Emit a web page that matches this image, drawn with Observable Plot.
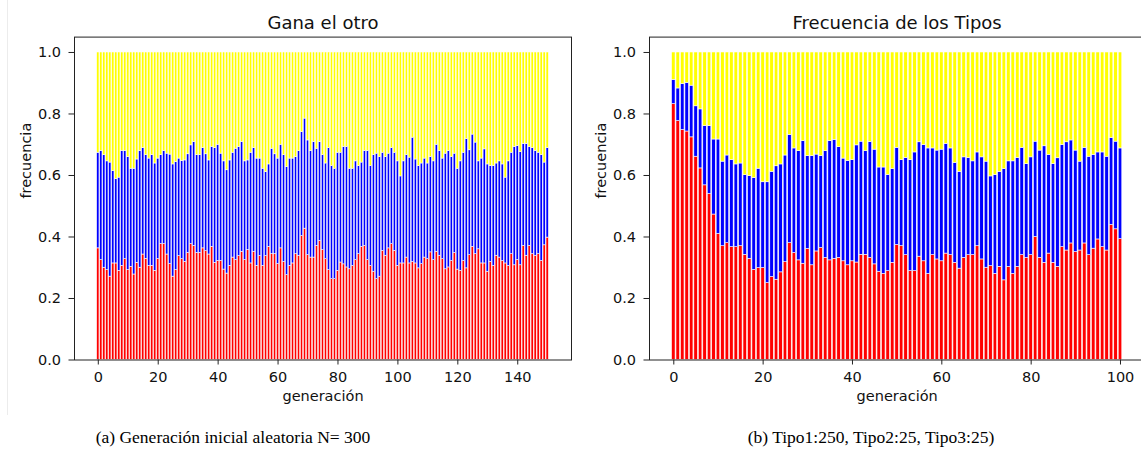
<!DOCTYPE html>
<html><head><meta charset="utf-8">
<script src="https://cdn.jsdelivr.net/npm/d3@7"></script>
<script src="https://cdn.jsdelivr.net/npm/@observablehq/plot@0.6"></script>
<style>
html,body{margin:0;padding:0;background:#fff;}
#wrap{position:relative;width:1141px;height:462px;overflow:hidden;background:#fff;}
.panel{position:absolute;top:0;width:600px;height:420px;}
.panel svg{max-width:none !important;}
.cap{position:absolute;top:429px;font-family:"Liberation Serif","DejaVu Serif",serif;font-size:17.5px;line-height:1;color:#000;white-space:nowrap;transform:translateX(-50%);}
#border{position:absolute;left:7px;top:0;width:1px;height:415px;background:#ececec;}
</style></head><body>
<div id="wrap">
<div id="border"></div>
<div id="left" class="panel" style="left:0px"></div>
<div id="right" class="panel" style="left:560px"></div>
<div class="cap" style="left:233px">(a) Generación inicial aleatoria N= 300</div>
<div class="cap" style="left:871px">(b) Tipo1:250, Tipo2:25, Tipo3:25)</div>
</div>
<script>
// ---- Data: cumulative boundaries ----
// Panel (a) "Gana el otro": top of red (Tipo1) and top of blue (Tipo1+Tipo2) per generation 0..150
const leftRedTop = [
0.363,0.325,0.300,0.292,0.271,0.314,0.314,0.290,0.306,0.328,
0.292,0.303,0.278,0.316,0.300,0.343,0.329,0.306,0.306,0.290,
0.328,0.377,0.377,0.343,0.312,0.271,0.292,0.338,0.328,0.319,
0.348,0.377,0.371,0.348,0.348,0.363,0.354,0.343,0.368,0.316,
0.322,0.322,0.294,0.281,0.306,0.333,0.325,0.338,0.352,0.325,
0.357,0.314,0.352,0.306,0.338,0.306,0.338,0.368,0.344,0.344,
0.312,0.363,0.319,0.276,0.306,0.314,0.344,0.339,0.403,0.427,
0.341,0.333,0.333,0.371,0.387,0.357,0.328,0.292,0.263,0.263,
0.290,0.317,0.311,0.301,0.295,0.306,0.325,0.344,0.368,0.371,
0.325,0.306,0.287,0.263,0.271,0.355,0.339,0.363,0.377,0.355,
0.306,0.314,0.314,0.333,0.314,0.319,0.314,0.298,0.312,0.333,
0.328,0.350,0.325,0.352,0.339,0.328,0.295,0.301,0.322,0.348,
0.294,0.290,0.322,0.298,0.341,0.368,0.344,0.360,0.314,0.314,
0.287,0.319,0.306,0.339,0.333,0.322,0.314,0.306,0.344,0.308,
0.325,0.308,0.371,0.339,0.371,0.344,0.339,0.344,0.322,0.373,
0.398];
const leftBlueTop = [
0.674,0.680,0.666,0.646,0.642,0.614,0.588,0.593,0.680,0.680,
0.660,0.622,0.622,0.652,0.680,0.689,0.666,0.655,0.666,0.639,
0.655,0.666,0.680,0.671,0.668,0.636,0.644,0.655,0.647,0.649,
0.669,0.698,0.709,0.666,0.666,0.689,0.669,0.649,0.693,0.689,
0.700,0.671,0.646,0.617,0.649,0.674,0.687,0.693,0.709,0.646,
0.649,0.674,0.689,0.655,0.655,0.622,0.611,0.636,0.687,0.669,
0.655,0.700,0.666,0.628,0.655,0.655,0.660,0.679,0.741,0.785,
0.714,0.680,0.709,0.687,0.709,0.666,0.639,0.689,0.631,0.622,
0.674,0.674,0.693,0.693,0.622,0.622,0.646,0.631,0.642,0.680,
0.680,0.631,0.666,0.671,0.660,0.674,0.660,0.671,0.689,0.674,
0.646,0.597,0.646,0.666,0.658,0.723,0.652,0.631,0.639,0.655,
0.639,0.660,0.646,0.700,0.680,0.655,0.671,0.680,0.660,0.671,
0.622,0.646,0.674,0.718,0.682,0.733,0.707,0.646,0.655,0.685,
0.636,0.631,0.631,0.639,0.646,0.636,0.593,0.646,0.674,0.693,
0.696,0.676,0.703,0.703,0.693,0.689,0.680,0.674,0.666,0.642,
0.689];
// Panel (b) "Frecuencia de los Tipos": generation 0..100
const rightRedTop = [
0.832,0.777,0.748,0.743,0.724,0.661,0.623,0.568,0.540,0.473,
0.410,0.370,0.380,0.367,0.367,0.370,0.342,0.329,0.293,0.299,
0.299,0.250,0.270,0.261,0.285,0.318,0.380,0.348,0.324,0.313,
0.361,0.308,0.353,0.364,0.332,0.324,0.329,0.332,0.321,0.308,
0.321,0.317,0.342,0.342,0.332,0.311,0.287,0.280,0.289,0.316,
0.374,0.370,0.341,0.289,0.289,0.336,0.321,0.280,0.341,0.327,
0.321,0.346,0.341,0.316,0.297,0.332,0.341,0.341,0.370,0.327,
0.300,0.305,0.280,0.303,0.259,0.303,0.280,0.303,0.341,0.332,
0.341,0.400,0.332,0.316,0.346,0.316,0.303,0.367,0.356,0.379,
0.351,0.356,0.379,0.341,0.362,0.392,0.367,0.356,0.439,0.425,
0.393];
const rightBlueTop = [
0.911,0.883,0.897,0.901,0.892,0.825,0.815,0.761,0.761,0.717,
0.717,0.645,0.665,0.650,0.636,0.639,0.601,0.598,0.592,0.622,
0.578,0.578,0.612,0.630,0.636,0.665,0.732,0.688,0.679,0.712,
0.663,0.663,0.668,0.663,0.679,0.712,0.716,0.692,0.655,0.647,
0.650,0.698,0.710,0.679,0.709,0.684,0.626,0.626,0.602,0.621,
0.690,0.650,0.657,0.650,0.675,0.708,0.699,0.688,0.688,0.681,
0.684,0.703,0.688,0.641,0.612,0.659,0.657,0.646,0.675,0.659,
0.645,0.597,0.602,0.612,0.621,0.646,0.646,0.657,0.690,0.637,
0.659,0.710,0.681,0.695,0.667,0.637,0.656,0.699,0.708,0.714,
0.681,0.645,0.690,0.661,0.667,0.675,0.675,0.661,0.722,0.710,
0.688];
const TOTAL = 1.0;
const tipos = ["Tipo1", "Tipo2", "Tipo3"];
const tipoColors = ["#ff0000", "#0000ff", "#ffff00"];
const yTicks = [0, 0.2, 0.4, 0.6, 0.8, 1.0];
const leftXTicks = [0, 20, 40, 60, 80, 100, 120, 140];
const rightXTicks = [0, 20, 40, 60, 80, 100];
const titles = ["Gana el otro", "Frecuencia de los Tipos"];
const xLabel = "generación";
const yLabel = "frecuencia";

function rowsFrom(redTop, blueTop) {
  const rows = [];
  redTop.forEach((r, i) => {
    rows.push({gen: i, tipo: tipos[0], lo: 0, hi: r});
    rows.push({gen: i, tipo: tipos[1], lo: r, hi: blueTop[i]});
    rows.push({gen: i, tipo: tipos[2], lo: blueTop[i], hi: TOTAL});
  });
  return rows;
}

const HALF = 0.4; // bar half width (matplotlib default width 0.8)
function panel({rows, xDomain, xTicks, title, width, marginLeft, marginRight}) {
  return Plot.plot({
    width, height: 420,
    marginLeft, marginRight, marginTop: 36.6, marginBottom: 60.5,
    style: {fontFamily: "DejaVu Sans, sans-serif", fontSize: "14.5px", color: "#111", background: "transparent", overflow: "visible", maxWidth: "none"},
    x: {type: "linear", domain: xDomain},
    y: {domain: [0, 1.05]},
    color: {domain: tipos, range: tipoColors},
    marks: [
      Plot.rectY(rows, {x1: d => d.gen - HALF, x2: d => d.gen + HALF, y1: "lo", y2: "hi", fill: "tipo", stroke: "white", strokeWidth: 0.6, inset: 0}),
      Plot.frame({stroke: "#222", strokeWidth: 1}),
      Plot.axisX({ticks: xTicks, tickSize: 5, tickPadding: 7, tickFormat: d => String(d), label: null, stroke: "#222"}),
      Plot.axisY({ticks: yTicks, tickSize: 5.5, tickPadding: 8, tickFormat: d3.format(".1f"), label: null, stroke: "#222"}),
      Plot.text([title], {frameAnchor: "top", lineAnchor: "middle", dy: -14.1, fontSize: 18, fill: "#111"}),
      Plot.text([xLabel], {frameAnchor: "bottom", lineAnchor: "middle", dy: 36, fill: "#111"}),
      Plot.text([yLabel], {frameAnchor: "left", lineAnchor: "middle", rotate: -90, dx: -48.6, fill: "#111"})
    ]
  });
}

document.getElementById("left").append(panel({
  rows: rowsFrom(leftRedTop, leftBlueTop),
  xDomain: [-7.94, 157.94], xTicks: leftXTicks, title: titles[0],
  width: 600, marginLeft: 74, marginRight: 29
}));
document.getElementById("right").append(panel({
  rows: rowsFrom(rightRedTop, rightBlueTop),
  xDomain: [-5.44, 105.44], xTicks: rightXTicks, title: titles[1],
  width: 600, marginLeft: 89, marginRight: 15.7
}));
</script>
</body></html>
